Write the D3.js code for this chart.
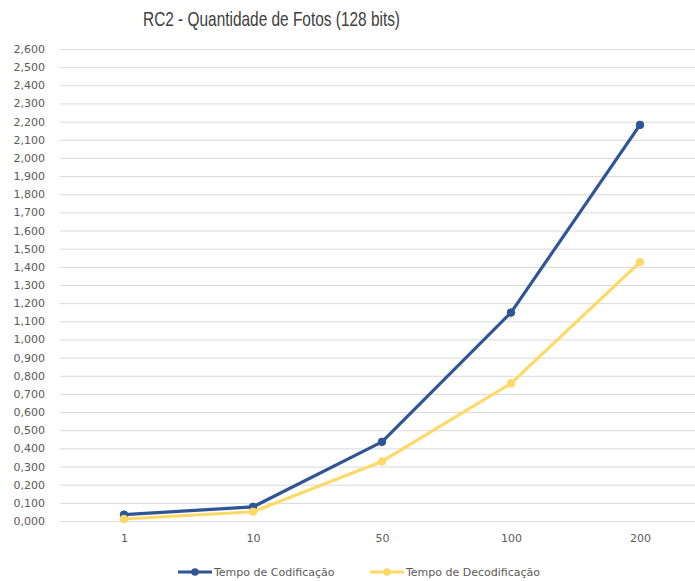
<!DOCTYPE html>
<html>
<head>
<meta charset="utf-8">
<script src="https://cdn.jsdelivr.net/npm/d3@7"></script>
<style>
  html, body { margin: 0; padding: 0; background: #fff; }
  svg { display: block; }
</style>
</head>
<body>
<svg id="chart" width="695" height="581"></svg>
<script>
// Número de fotos processadas
const categories = ["1", "10", "50", "100", "200"];
// Tempo em segundos
const codificacao = [0.035, 0.078, 0.436, 1.148, 2.182];
const decodificacao = [0.011, 0.051, 0.328, 0.758, 1.426];
const seriesNames = ["Tempo de Codificação", "Tempo de Decodificação"];
const seriesColors = ["#2f5597", "#ffd966"];
const yTicks = d3.range(0, 2.6001, 0.1);

const width = 695, height = 581;

const svg = d3.select("#chart");
const titleFont = "'Liberation Sans', Arial, sans-serif";
const labelFont = "'DejaVu Sans', Verdana, sans-serif";

const ptBR = d3.formatLocale({ decimal: ",", thousands: ".", grouping: [3], currency: ["R$", ""] });
const fmt = ptBR.format(".3f");

const x = d3.scalePoint()
  .domain(categories)
  .range([124, 640]);

const y = d3.scaleLinear()
  .domain([0, 2.6])
  .range([521, 49]);

// Título
svg.append("text")
  .attr("x", 143)
  .attr("y", 26)
  .attr("font-family", titleFont)
  .attr("font-size", 21)
  .attr("textLength", 257)
  .attr("lengthAdjust", "spacingAndGlyphs")
  .attr("fill", "#404040")
  .text("RC2 - Quantidade de Fotos (128 bits)");

// Grade horizontal e rótulos do eixo Y
const yAxis = d3.axisLeft(y)
  .tickValues(yTicks)
  .tickFormat(d => fmt(d))
  .tickSize(-(width - 60))
  .tickPadding(15);

const gy = svg.append("g")
  .attr("transform", "translate(60,0)")
  .call(yAxis);
gy.select(".domain").remove();
gy.selectAll(".tick line").attr("stroke", "#d9d9d9").attr("stroke-width", 1);
gy.selectAll(".tick text")
  .attr("font-family", labelFont)
  .attr("font-size", 11)
  .attr("fill", "#595959");

// Rótulos do eixo X
const xAxis = d3.axisBottom(x).tickSize(0).tickPadding(13);
const gx = svg.append("g")
  .attr("transform", "translate(0,521)")
  .call(xAxis);
gx.select(".domain").remove();
gx.selectAll(".tick text")
  .attr("font-family", labelFont)
  .attr("font-size", 11)
  .attr("fill", "#595959");

// Linhas com marcadores
const line = d3.line()
  .x((d, i) => x(categories[i]))
  .y(d => y(d))
  .curve(d3.curveLinear);

[codificacao, decodificacao].forEach((vals, s) => {
  svg.append("path")
    .datum(vals)
    .attr("d", line)
    .attr("fill", "none")
    .attr("stroke", seriesColors[s])
    .attr("stroke-width", 3.2)
    .attr("stroke-linejoin", "round")
    .attr("stroke-linecap", "round");
  svg.append("g")
    .selectAll("circle")
    .data(vals)
    .join("circle")
    .attr("cx", (d, i) => x(categories[i]))
    .attr("cy", d => y(d))
    .attr("r", 3.8)
    .attr("fill", seriesColors[s])
    .attr("stroke", seriesColors[s]);
});

// Legenda
const legendItems = [
  { x0: 178, name: seriesNames[0], color: seriesColors[0] },
  { x0: 370, name: seriesNames[1], color: seriesColors[1] }
];
const lg = svg.append("g");
legendItems.forEach(it => {
  lg.append("line")
    .attr("x1", it.x0).attr("x2", it.x0 + 34)
    .attr("y1", 572).attr("y2", 572)
    .attr("stroke", it.color).attr("stroke-width", 3.2);
  lg.append("circle")
    .attr("cx", it.x0 + 17).attr("cy", 572).attr("r", 3.8)
    .attr("fill", it.color);
  lg.append("text")
    .attr("x", it.x0 + 36).attr("y", 576)
    .attr("font-family", labelFont)
    .attr("font-size", 11)
    .attr("fill", "#595959")
    .text(it.name);
});
</script>
</body>
</html>
